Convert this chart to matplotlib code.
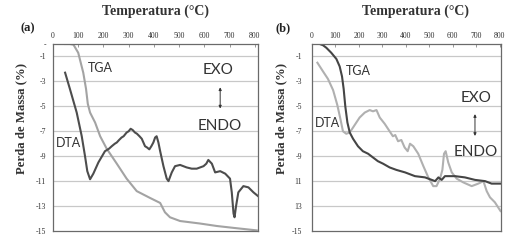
import matplotlib
matplotlib.use('Agg')
import matplotlib.pyplot as plt
import numpy as np

# ---- dados ----
# (a)
tga_a_T = [48, 67, 81, 100, 120, 131, 138, 147, 167, 187, 213, 253, 292, 332, 385, 425, 444, 464, 504, 583, 650, 716, 808]
tga_a_v = [0, 0, -0.05, -0.7, -2.3, -3.6, -4.8, -5.5, -6.3, -7.4, -8.4, -9.6, -10.8, -11.8, -12.35, -12.75, -13.5, -13.9, -14.2, -14.4, -14.6, -14.75, -14.95]

dta_a_T = [48, 67, 94, 114, 127, 136, 147, 160, 180, 206, 222, 233, 245, 253, 262, 272, 280, 292, 300, 308, 316, 325, 333, 343, 352, 365,
           373, 382, 390, 398, 405, 411, 418, 425, 438, 451, 458, 471, 484, 504, 530, 550, 570, 597, 608, 616, 630, 643, 663, 683,
           702, 709, 716, 720, 726, 735, 755, 775, 795, 813]
dta_a_v = [-2.3, -3.6, -5.5, -7.4, -9.0, -10.2, -10.85, -10.4, -9.5, -8.6, -8.4, -8.2, -8.0, -7.9, -7.7, -7.5, -7.4, -7.1, -7.0, -6.8, -6.9, -7.1, -7.2, -7.4, -7.6, -8.2,
           -8.3, -8.45, -8.2, -7.9, -7.5, -7.4, -7.9, -8.6, -9.8, -10.8, -11.0, -10.3, -9.8, -9.7, -9.9, -10.0, -10.0, -9.8, -9.6, -9.3, -9.6, -10.3, -10.2, -10.4,
           -10.8, -11.9, -13.6, -13.9, -13.0, -11.9, -11.4, -11.5, -11.9, -12.2]

# (b)
tga_b_T = [33, 47, 61, 82, 104, 118, 128, 135, 142, 151, 161, 175, 196, 217, 239, 260, 281, 303, 331, 360, 397, 439, 482, 525, 539, 553, 567, 610, 652,
           695, 738, 766, 787, 806]
tga_b_v = [0, -0.1, -0.3, -0.7, -1.2, -1.8, -2.6, -3.6, -5.0, -6.3, -7.1, -7.6, -8.2, -8.6, -8.8, -9.1, -9.4, -9.6, -9.9, -10.1, -10.3, -10.6, -10.7, -11.0, -10.7, -10.9, -10.6, -10.6, -10.7,
           -10.9, -11.0, -11.2, -11.2, -11.2]

dta_b_T = [23, 47, 68, 90, 108, 121, 132, 146, 161, 182, 203, 225, 246, 260, 275, 289, 310, 331, 345, 355, 367, 381, 395, 408, 418, 432, 453, 475,
           496, 517, 531, 546, 556, 563, 570, 581, 596, 617, 645, 681, 709, 731, 745, 759, 780, 804]
dta_b_v = [-1.5, -2.2, -2.8, -3.7, -4.9, -6.0, -7.0, -7.2, -7.1, -6.5, -5.9, -5.5, -5.3, -5.4, -5.3, -5.9, -6.4, -7.0, -7.4, -7.3, -7.8, -7.7, -8.3, -8.6, -8.0, -8.2, -8.8, -9.8,
           -10.7, -11.4, -11.4, -10.8, -10.1, -8.8, -8.6, -9.5, -10.3, -10.8, -11.1, -11.4, -11.2, -11.0, -11.8, -12.3, -12.7, -13.4]

x_ticks = [0, 100, 200, 300, 400, 500, 600, 700, 800]
y_ticks = [0, -1, -3, -5, -7, -9, -11, -13, -15]
ylabels_a = ['-', '-1', '-3', '-5', '-7', '-9', '-11', '-13', '-15']
ylabels_b = ['', '-1', '-3', '-5', '-7', '-9', '11', '13', '-15']

W, H = 516, 241
fig = plt.figure(figsize=(W / 100, H / 100), dpi=100)

serif = ['Liberation Serif', 'DejaVu Serif']
sans = ['Lato', 'DejaVu Sans']

light = '#a3a3a3'
dark = '#4d4d4d'


def make_ax(px_left, px_right, xmax, ylab):
    ax = fig.add_axes([px_left / W, 1 - 231 / H, (px_right - px_left) / W, (231 - 44) / H])
    ax.set_xlim(0, xmax)
    ax.set_ylim(-15, 0)
    ax.xaxis.tick_top()
    ax.set_xticks(x_ticks)
    ax.set_xticklabels([str(t) for t in x_ticks], fontsize=5.6, family=serif, color='#333333')
    ax.tick_params(axis='x', direction='in', length=2.5, width=0.6, color='#888888', pad=3)
    ax.set_yticks(y_ticks)
    ax.set_yticklabels(ylab, fontsize=5.6, family=serif, color='#333333')
    ax.tick_params(axis='y', length=0, pad=5)
    for yy in y_ticks[1:-1]:
        ax.axhline(yy, color='#c8c8c8', lw=0.9, zorder=0)
    for sp in ax.spines.values():
        sp.set_color('#6a6a6a')
        sp.set_linewidth(0.9)
    return ax


# (a)
ax1 = make_ax(53, 258, 813, ylabels_a)
ax1.plot(tga_a_T, tga_a_v, color=light, lw=1.5)
ax1.plot(dta_a_T, dta_a_v, color=dark, lw=1.5)
ax1.text(186, -1.9, 'TGA', fontsize=9, family=sans, color='#333333', ha='center', va='center')
ax1.text(60, -7.95, 'DTA', fontsize=9, family=sans, color='#333333', ha='center', va='center')
ax1.text(655, -2.1, 'EXO', fontsize=11, family=sans, color='#333333', ha='center', va='center')
ax1.text(663, -6.6, 'ENDO', fontsize=11, family=sans, color='#333333', ha='center', va='center')
ax1.annotate('', xy=(663, -3.25), xytext=(663, -5.4),
             arrowprops=dict(arrowstyle='<|-|>', color='#333333', lw=0.7, mutation_scale=4))

# (b)
ax2 = make_ax(312, 501, 806, ylabels_b)
ax2.tick_params(axis='y', pad=7)
ax2.plot(dta_b_T, dta_b_v, color='#b0b0b0', lw=1.5)
ax2.plot(tga_b_T, tga_b_v, color='#454545', lw=1.5)
ax2.text(196, -2.2, 'TGA', fontsize=9, family=sans, color='#333333', ha='center', va='center')
ax2.text(64, -6.3, 'DTA', fontsize=9, family=sans, color='#333333', ha='center', va='center')
ax2.text(699, -4.3, 'EXO', fontsize=11, family=sans, color='#333333', ha='center', va='center')
ax2.text(699, -8.7, 'ENDO', fontsize=11, family=sans, color='#333333', ha='center', va='center')
ax2.annotate('', xy=(695, -5.4), xytext=(695, -7.6),
             arrowprops=dict(arrowstyle='<|-|>', color='#333333', lw=0.7, mutation_scale=4))

# titulos e rotulos
for cx, lab, lx, ylx in [(155, '(a)', 28, 21), (415, '(b)', 283, 281)]:
    fig.text(cx / W, 1 - 11 / H, 'Temperatura (°C)', fontsize=10, family=serif, weight='bold',
             color='#333333', ha='center', va='center')
    fig.text(lx / W, 1 - 28 / H, lab, fontsize=9, family=serif, weight='bold',
             color='#222222', ha='center', va='center')
    fig.text(ylx / W, 1 - 118 / H, 'Perda de Massa (%)', fontsize=9.2, family=serif, weight='bold',
             color='#333333', ha='center', va='center', rotation=90)

fig.savefig('out.png', dpi=100)
